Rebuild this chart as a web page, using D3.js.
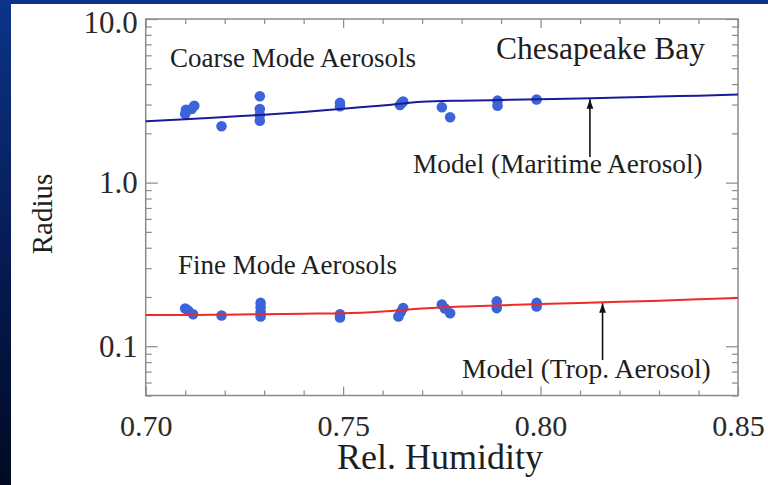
<!DOCTYPE html>
<html><head><meta charset="utf-8">
<script src="https://cdn.jsdelivr.net/npm/d3@7"></script>
<style>html,body{margin:0;padding:0;background:#000}svg{display:block}</style>
</head><body>
<svg id="c" width="768" height="485"></svg>
<script>
// ---- data ----
const coarseRH = [0.7100,0.7102,0.7116,0.7123,0.7192,0.7289,0.7289,0.7289,0.7289,0.7492,0.7492,0.7644,0.7652,0.7648,0.7750,0.7771,0.7891,0.7891,0.7990];
const coarseR  = [2.63,2.79,2.82,2.95,2.21,3.37,2.82,2.59,2.39,3.07,2.93,2.98,3.13,3.07,2.89,2.51,3.17,2.95,3.22];
const fineRH = [0.7100,0.7108,0.7120,0.7192,0.7291,0.7291,0.7291,0.7291,0.7492,0.7492,0.7640,0.7652,0.7646,0.7750,0.7758,0.7771,0.7889,0.7889,0.7990,0.7990];
const fineR  = [0.170,0.165,0.157,0.154,0.184,0.173,0.162,0.152,0.157,0.150,0.152,0.171,0.162,0.180,0.170,0.159,0.188,0.171,0.184,0.175];
const modelRH     = [0.70,0.71,0.72,0.73,0.74,0.75,0.76,0.77,0.78,0.79,0.80,0.81,0.82,0.83,0.84,0.85];
const maritimeR   = [2.37,2.44,2.52,2.60,2.70,2.83,2.96,3.12,3.17,3.20,3.23,3.27,3.31,3.36,3.40,3.45];
const tropR       = [0.155,0.155,0.156,0.157,0.158,0.159,0.163,0.170,0.175,0.178,0.181,0.184,0.187,0.190,0.194,0.197];
const xTickVals   = [0.70,0.75,0.80,0.85];
const xTickLabels = ["0.70","0.75","0.80","0.85"];
const yTickVals   = [0.1,1,10];
const yTickLabels = ["0.1","1.0","10.0"];
const arrowRH     = [0.8125,0.8157];   // arrow positions on the two model lines

const svg = d3.select("#c");
const W = 768, H = 485;
const L = 145.7, R = 738, T = 19, B = 395.5;
const x = d3.scaleLinear().domain([0.70,0.85]).range([L,R]);
const y = d3.scaleLog().domain([0.05,10]).range([B,T]);

// background
const defs = svg.append("defs");
const g1 = defs.append("linearGradient").attr("id","bg").attr("x1",0).attr("y1",0).attr("x2",0).attr("y2",1);
g1.append("stop").attr("offset","0%").attr("stop-color","#0c3488");
g1.append("stop").attr("offset","55%").attr("stop-color","#061a52");
g1.append("stop").attr("offset","100%").attr("stop-color","#000a22");
svg.append("rect").attr("width",W).attr("height",H).attr("fill","url(#bg)");
svg.append("rect").attr("x",11).attr("y",4).attr("width",W-11).attr("height",H-4).attr("fill","#ffffff");

const FONT = "'Liberation Serif','Times New Roman',serif";
const tickCol = "#8a8a8a";

// minor / major ticks on all sides
const xMinor = x.ticks(15).filter(v => !xTickVals.some(t => Math.abs(t-v)<1e-9));
const yMinor = y.ticks().filter(v => !yTickVals.some(t => Math.abs(t-v)/t<1e-9));
function styleAxis(g){ g.select(".domain").remove(); g.selectAll("line").attr("stroke",tickCol).attr("stroke-width",1.2); }
svg.append("g").attr("transform",`translate(0,${B})`).call(d3.axisBottom(x).tickValues(xMinor).tickSize(-5).tickFormat("")).call(styleAxis);
svg.append("g").attr("transform",`translate(0,${T})`).call(d3.axisTop(x).tickValues(xMinor).tickSize(-5).tickFormat("")).call(styleAxis);
svg.append("g").attr("transform",`translate(0,${T})`).call(d3.axisTop(x).tickValues(xTickVals).tickSize(-9).tickFormat("")).call(styleAxis);
svg.append("g").attr("transform",`translate(${L},0)`).call(d3.axisLeft(y).tickValues(yMinor).tickSize(-6).tickFormat("")).call(styleAxis);
svg.append("g").attr("transform",`translate(${R},0)`).call(d3.axisRight(y).tickValues(yMinor).tickSize(-6).tickFormat("")).call(styleAxis);
svg.append("g").attr("transform",`translate(${R},0)`).call(d3.axisRight(y).tickValues(yTickVals).tickSize(-12).tickFormat("")).call(styleAxis);

// labelled axes
const xa = svg.append("g").attr("transform",`translate(0,${B})`)
  .call(d3.axisBottom(x).tickValues(xTickVals).tickSize(-9).tickPadding(19).tickFormat((d,i)=>xTickLabels[i]));
xa.call(styleAxis);
xa.selectAll("text").attr("font-family",FONT).attr("font-size",30).attr("fill","#2a2a2a");
const ya = svg.append("g").attr("transform",`translate(${L},0)`)
  .call(d3.axisLeft(y).tickValues(yTickVals).tickSize(-12).tickPadding(8).tickFormat((d,i)=>yTickLabels[i]));
ya.call(styleAxis);
ya.selectAll("text").attr("font-family",FONT).attr("font-size",31).attr("fill","#2a2a2a")
  .attr("dy",(d)=> d===10 ? "0.45em" : "0.32em");

// frame
svg.append("rect").attr("x",L).attr("y",T).attr("width",R-L).attr("height",B-T)
  .attr("fill","none").attr("stroke",tickCol).attr("stroke-width",1.5);

// points
const dotCol = "#3c63da";
svg.append("g").selectAll("circle").data(coarseRH).join("circle")
  .attr("cx",(d)=>x(d)).attr("cy",(d,i)=>y(coarseR[i])).attr("r",5.3).attr("fill",dotCol);
svg.append("g").selectAll("circle").data(fineRH).join("circle")
  .attr("cx",(d)=>x(d)).attr("cy",(d,i)=>y(fineR[i])).attr("r",5.3).attr("fill",dotCol);

// model lines
const line = d3.line().x(d=>x(d[0])).y(d=>y(d[1])).curve(d3.curveMonotoneX);
svg.append("path").datum(modelRH.map((v,i)=>[v,maritimeR[i]])).attr("d",line)
  .attr("fill","none").attr("stroke","#1a1a9a").attr("stroke-width",2);
svg.append("path").datum(modelRH.map((v,i)=>[v,tropR[i]])).attr("d",line)
  .attr("fill","none").attr("stroke","#ee2a2a").attr("stroke-width",2);

// arrows
const interp = (xs,ys,v)=>{ const i = Math.min(xs.length-2, d3.bisectRight(xs,v)-1); const t=(v-xs[i])/(xs[i+1]-xs[i]); return Math.exp(Math.log(ys[i])*(1-t)+Math.log(ys[i+1])*t); };
defs.append("marker").attr("id","ah").attr("viewBox","0 0 10 10").attr("refX",10).attr("refY",5)
  .attr("markerWidth",6).attr("markerHeight",6).attr("orient","auto")
  .append("path").attr("d","M0,1.5 L10,5 L0,8.5 Z").attr("fill","#111");
const arrowBottoms = [157, 360];
[[arrowRH[0], interp(modelRH,maritimeR,arrowRH[0])],[arrowRH[1], interp(modelRH,tropR,arrowRH[1])]].forEach((a,i)=>{
  svg.append("line").attr("x1",x(a[0])).attr("x2",x(a[0])).attr("y1",arrowBottoms[i]).attr("y2",y(a[1])+1)
    .attr("stroke","#111").attr("stroke-width",1.6).attr("marker-end","url(#ah)");
});

// texts
const txt = (s,xx,yy,size,anchor)=>svg.append("text").attr("x",xx).attr("y",yy).attr("font-family",FONT)
  .attr("font-size",size).attr("fill","#1e1e1e").attr("text-anchor",anchor||"start").text(s);
txt("Coarse Mode Aerosols",170,67,27);
txt("Chesapeake Bay",705,59,31.5,"end");
txt("Model (Maritime Aerosol)",413,173,27.3);
txt("Fine Mode Aerosols",178,274,27);
txt("Model (Trop. Aerosol)",462,378,27.5);
txt("Rel. Humidity",440,469,36,"middle");
svg.append("text").attr("transform","translate(52,214) rotate(-90)").attr("text-anchor","middle")
  .attr("font-family",FONT).attr("font-size",29).attr("fill","#1e1e1e").text("Radius");
</script>
</body></html>
